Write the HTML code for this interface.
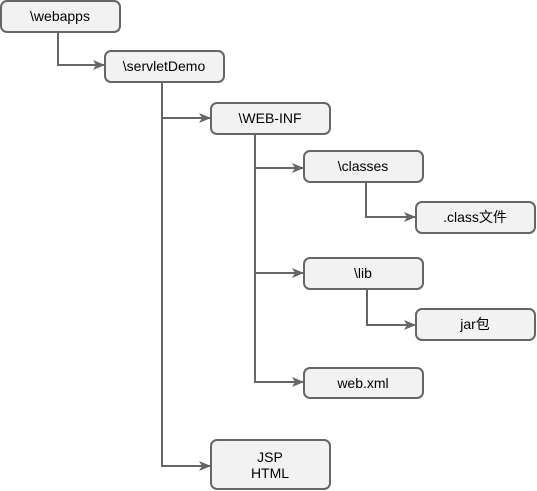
<!DOCTYPE html>
<html><head><meta charset="utf-8"><style>
html,body{margin:0;padding:0;background:#fff;width:537px;height:491px;overflow:hidden}
svg text{font-family:"Liberation Sans","Noto Sans CJK SC",sans-serif;font-size:14px;fill:#000}
</style></head><body>
<svg width="537" height="491" viewBox="0 0 537 491" xmlns="http://www.w3.org/2000/svg">
<defs><marker id="a" markerWidth="12" markerHeight="10" refX="11" refY="5" orient="auto" markerUnits="userSpaceOnUse"><path d="M0,0 L12,5 L0,10 L3,5 Z" fill="#666"/></marker></defs>
<g fill="none" stroke="#666" stroke-width="2">
<path d="M58,32 V65 H104" marker-end="url(#a)"/>
<path d="M162,82 V118 H210" marker-end="url(#a)"/>
<path d="M162,118 V466 H210" marker-end="url(#a)"/>
<path d="M255,134 V168 H303" marker-end="url(#a)"/>
<path d="M255,168 V273 H303" marker-end="url(#a)"/>
<path d="M255,273 V382 H303" marker-end="url(#a)"/>
<path d="M366,182 V217 H415" marker-end="url(#a)"/>
<path d="M367,289 V325 H415" marker-end="url(#a)"/>
</g>
<g fill="#f2f2f2" stroke="#666" stroke-width="2">
<rect x="1" y="1" width="119" height="31" rx="6"/>
<rect x="105" y="51" width="119" height="31" rx="6"/>
<rect x="211" y="103" width="119" height="31" rx="6"/>
<rect x="304" y="151" width="119" height="31" rx="6"/>
<rect x="416" y="202" width="119" height="31" rx="6"/>
<rect x="304" y="258" width="119" height="31" rx="6"/>
<rect x="416" y="309" width="119" height="31" rx="6"/>
<rect x="304" y="368" width="119" height="30" rx="6"/>
<rect x="211" y="440" width="119" height="49" rx="6"/>
</g>
<g text-anchor="middle">
<text x="60" y="21">\webapps</text>
<text x="164" y="71">\servletDemo</text>
<text x="270" y="123">\WEB-INF</text>
<text x="363" y="171">\classes</text>
<text x="475" y="222">.class文件</text>
<text x="363" y="278">\lib</text>
<text x="475" y="329">jar包</text>
<text x="363" y="388">web.xml</text>
<text x="270" y="462">JSP</text>
<text x="270" y="478">HTML</text>
</g>
</svg>
</body></html>
